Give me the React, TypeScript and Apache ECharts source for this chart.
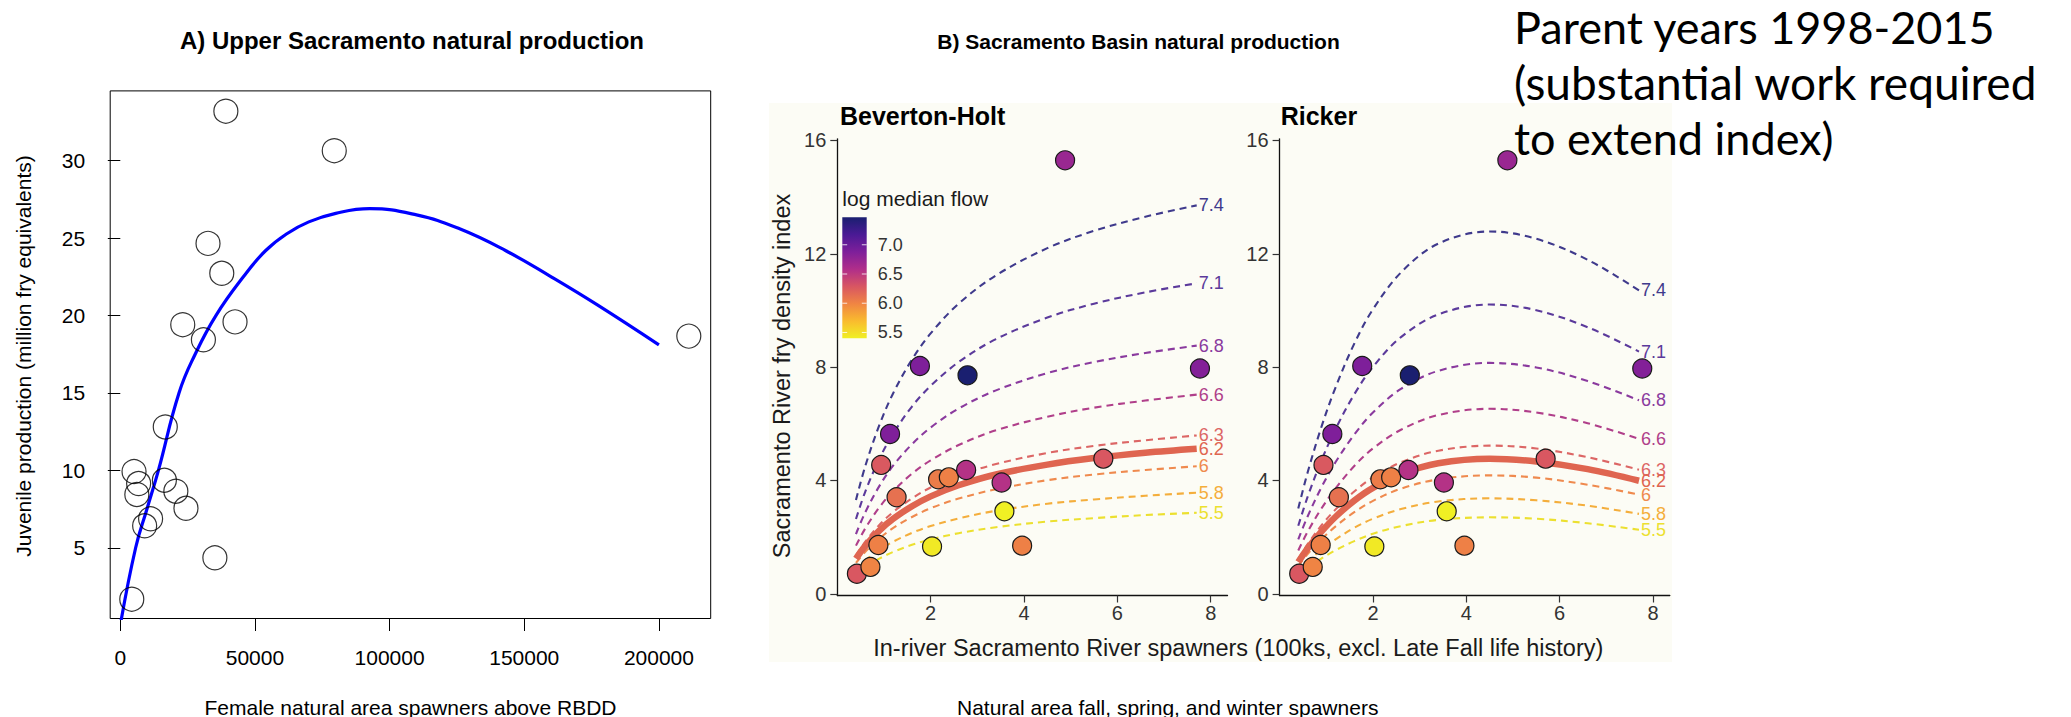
import React, { useEffect, useRef } from "react";
import * as echarts from "echarts";

// ---------- Panel A: Upper Sacramento natural production ----------
const A_SPAWNERS = [4260, 5100, 6140, 6800, 9040, 11250, 16370, 16700, 20630, 23190, 24380, 30860, 32570, 35120, 37680, 39200, 42600, 79450, 211100];
const A_JUVENILES = [1.68, 9.92, 8.44, 9.15, 6.42, 6.87, 9.36, 12.8, 8.65, 19.41, 7.55, 18.43, 24.66, 4.35, 22.73, 33.2, 19.59, 30.65, 18.67];
const A_FIT_X = [0, 5700, 9900, 14150, 21800, 27800, 35500, 45700, 54000, 62000, 70000, 80000, 92600, 110000, 126000, 143000, 160000, 177000, 200000];
const A_FIT_Y = [0, 5, 7.5, 10, 15, 17.5, 20, 22.5, 24.2, 25.3, 26.05, 26.6, 26.9, 26.5, 25.6, 24.2, 22.5, 20.7, 18.1];
const A_X_TICKS = [0, 50000, 100000, 150000, 200000];
const A_Y_TICKS = [5, 10, 15, 20, 25, 30];

// ---------- Panel B: Sacramento Basin natural production ----------
// spawners (100ks), fry density index, log median flow
const B_SPAWNERS = [0.42, 0.71, 0.88, 0.94, 1.13, 1.27, 1.77, 2.03, 2.16, 2.39, 2.76, 2.79, 3.52, 3.58, 3.96, 4.88, 5.7, 7.77];
const B_FRY = [0.71, 0.95, 1.72, 4.55, 5.64, 3.41, 8.04, 1.67, 4.04, 4.11, 4.37, 7.71, 3.93, 2.91, 1.7, 15.3, 4.77, 7.95];
const B_FLOW = [6.28, 6.0, 6.02, 6.27, 6.87, 6.12, 6.88, 5.44, 6.05, 6.02, 6.55, 7.47, 6.55, 5.4, 6.02, 6.72, 6.28, 6.85];

const CURVE_SPAWNERS = [0.4, 0.6, 0.9, 1.2, 1.6, 2.0, 2.6, 3.4, 4.5, 5.5, 6.6, 7.7];
const CURVE_FLOWS = ["7.4", "7.1", "6.8", "6.6", "6.3", "6.2", "6", "5.8", "5.5"];
const CURVE_COLORS = ["#3f3a8c", "#5b3a9b", "#8a3a9e", "#b03f8a", "#dc6665", "#df6550", "#ef8a4e", "#f4ae3c", "#ece030"];
const MEDIAN_FLOW = "6.2";

const BH_CURVES = [
  [3.31, 4.51, 5.95, 7.09, 8.27, 9.19, 10.24, 11.24, 12.2, 12.81, 13.31, 13.71],
  [2.64, 3.61, 4.76, 5.66, 6.61, 7.34, 8.18, 8.99, 9.75, 10.24, 10.64, 10.96],
  [2.11, 2.88, 3.8, 4.53, 5.28, 5.87, 6.54, 7.18, 7.79, 8.18, 8.5, 8.76],
  [1.7, 2.31, 3.05, 3.63, 4.24, 4.71, 5.25, 5.77, 6.25, 6.57, 6.82, 7.03],
  [1.35, 1.84, 2.43, 2.89, 3.37, 3.75, 4.17, 4.58, 4.97, 5.22, 5.42, 5.59],
  [1.24, 1.69, 2.23, 2.65, 3.09, 3.44, 3.83, 4.21, 4.56, 4.79, 4.98, 5.12],
  [1.09, 1.48, 1.95, 2.33, 2.71, 3.02, 3.36, 3.69, 4.01, 4.21, 4.37, 4.5],
  [0.86, 1.17, 1.55, 1.84, 2.15, 2.39, 2.66, 2.93, 3.18, 3.33, 3.46, 3.57],
  [0.69, 0.94, 1.24, 1.48, 1.73, 1.92, 2.14, 2.35, 2.55, 2.67, 2.78, 2.86],
];

const RICKER_CURVES = [
  [3.01, 4.28, 5.91, 7.29, 8.83, 10.04, 11.34, 12.36, 12.79, 12.53, 11.79, 10.71],
  [2.4, 3.42, 4.72, 5.82, 7.04, 8.01, 9.06, 9.86, 10.21, 10.01, 9.41, 8.55],
  [1.92, 2.73, 3.77, 4.65, 5.62, 6.4, 7.23, 7.87, 8.15, 7.99, 7.51, 6.83],
  [1.53, 2.19, 3.02, 3.72, 4.51, 5.13, 5.79, 6.31, 6.53, 6.4, 6.02, 5.47],
  [1.23, 1.75, 2.42, 2.98, 3.61, 4.11, 4.64, 5.05, 5.23, 5.13, 4.82, 4.38],
  [1.12, 1.6, 2.2, 2.72, 3.29, 3.74, 4.23, 4.61, 4.77, 4.67, 4.4, 3.99],
  [0.98, 1.4, 1.93, 2.38, 2.88, 3.28, 3.71, 4.04, 4.18, 4.1, 3.85, 3.5],
  [0.79, 1.13, 1.56, 1.92, 2.33, 2.65, 2.99, 3.26, 3.37, 3.3, 3.11, 2.82],
  [0.63, 0.9, 1.25, 1.54, 1.86, 2.12, 2.39, 2.61, 2.7, 2.65, 2.49, 2.26],
];

const B_X_TICKS = [2, 4, 6, 8];
const B_Y_TICKS = [0, 4, 8, 12, 16];

// colour bar: log median flow, plasma-like scale from high (top) to low (bottom)
const FLOW_MIN = 5.4;
const FLOW_MAX = 7.47;
const FLOW_TICKS = [5.5, 6.0, 6.5, 7.0];
const FLOW_COLORS = ["#1a1f70", "#4a1a95", "#7e1f9a", "#b02e8a", "#d85662", "#f08543", "#f9bb2e", "#f0f024"];

const SANS = '"Liberation Sans", Arial, Helvetica, sans-serif';
const NOTE_FONT = "Lato, 'Open Sans', sans-serif";

function buildOption() {
  const pointsA = A_SPAWNERS.map((x, i) => [x, A_JUVENILES[i]]);
  const fitA = A_FIT_X.map((x, i) => [x, A_FIT_Y[i]]);
  const pointsB = B_SPAWNERS.map((x, i) => [x, B_FRY[i], B_FLOW[i]]);

  const curveSeries = (curves: number[][], axis: number) =>
    curves.map((vals, ci) => {
      const name = CURVE_FLOWS[ci];
      const solid = name === MEDIAN_FLOW;
      return {
        type: "line",
        name,
        xAxisIndex: axis,
        yAxisIndex: axis,
        data: CURVE_SPAWNERS.map((x, i) => [x, vals[i]]),
        smooth: 0.35,
        symbol: "none",
        silent: true,
        z: solid ? 3 : 2,
        lineStyle: solid
          ? { color: CURVE_COLORS[ci], width: 6.5, type: "solid", cap: "butt" }
          : { color: CURVE_COLORS[ci], width: 2.1, type: [7, 5] },
        endLabel: {
          show: true,
          formatter: () => name,
          color: CURVE_COLORS[ci],
          fontSize: 18,
          fontFamily: SANS,
          distance: 2,
        },
      };
    });

  const scatterB = (axis: number) => ({
    type: "scatter",
    id: "flowPoints" + axis,
    xAxisIndex: axis,
    yAxisIndex: axis,
    data: pointsB,
    encode: { x: 0, y: 1 },
    symbolSize: 19,
    z: 5,
    itemStyle: { borderColor: "#1a1a1a", borderWidth: 1.2, opacity: 1 },
  });

  const series: any[] = [
    {
      type: "scatter",
      xAxisIndex: 0,
      yAxisIndex: 0,
      data: pointsA,
      symbolSize: 24,
      z: 4,
      itemStyle: { color: "rgba(0,0,0,0)", borderColor: "#000", borderWidth: 1.2 },
    },
    {
      type: "line",
      xAxisIndex: 0,
      yAxisIndex: 0,
      data: fitA,
      smooth: 0.45,
      symbol: "none",
      z: 3,
      lineStyle: { color: "#0000ff", width: 3.2 },
    },
    ...curveSeries(BH_CURVES, 1),
    scatterB(1),
    ...curveSeries(RICKER_CURVES, 2),
    scatterB(2),
    {
      type: "custom",
      xAxisIndex: 3,
      yAxisIndex: 3,
      silent: true,
      data: [[0, FLOW_MIN, 1, FLOW_MAX]],
      encode: { x: [0, 2], y: [1, 3] },
      renderItem: (params: any, api: any) => {
        const tl = api.coord([0, FLOW_MAX]);
        const br = api.coord([1, FLOW_MIN]);
        const w = br[0] - tl[0];
        const children: any[] = [
          {
            type: "rect",
            shape: { x: tl[0], y: tl[1], width: w, height: br[1] - tl[1] },
            style: {
              fill: new echarts.graphic.LinearGradient(
                0, 0, 0, 1,
                FLOW_COLORS.map((c, i) => ({ offset: i / (FLOW_COLORS.length - 1), color: c }))
              ),
            },
          },
        ];
        FLOW_TICKS.forEach((v) => {
          const y = api.coord([0, v])[1];
          children.push({ type: "line", shape: { x1: tl[0], y1: y, x2: tl[0] + w / 5, y2: y }, style: { stroke: "rgba(255,255,255,0.8)", lineWidth: 1 } });
          children.push({ type: "line", shape: { x1: br[0] - w / 5, y1: y, x2: br[0], y2: y }, style: { stroke: "rgba(255,255,255,0.8)", lineWidth: 1 } });
        });
        return { type: "group", children };
      },
    },
  ];

  const pointSeriesIdx = series
    .map((s, i) => (typeof s.id === "string" && s.id.indexOf("flowPoints") === 0 ? i : -1))
    .filter((i) => i >= 0);

  const bAxisX = (grid: number) => ({
    type: "value",
    gridIndex: grid,
    min: 0,
    max: 8.36,
    axisLine: { show: true, onZero: false, lineStyle: { color: "#111", width: 1.3 } },
    axisTick: { show: true, customValues: B_X_TICKS, length: 7, lineStyle: { color: "#333", width: 1.2 } },
    axisLabel: { customValues: B_X_TICKS, fontSize: 20, color: "#333", margin: 7 },
    splitLine: { show: false },
  });
  const bAxisY = (grid: number) => ({
    type: "value",
    gridIndex: grid,
    min: -0.06,
    max: 16.06,
    axisLine: { show: true, onZero: false, lineStyle: { color: "#111", width: 1.3 } },
    axisTick: { show: true, customValues: B_Y_TICKS, length: 7, lineStyle: { color: "#333", width: 1.2 } },
    axisLabel: { customValues: B_Y_TICKS, fontSize: 20, color: "#333", margin: 11 },
    splitLine: { show: false },
  });

  const text = (x: number, y: number, t: string, size: number, extra: any = {}) => ({
    type: "text",
    x,
    y,
    rotation: extra.rotation || 0,
    style: {
      text: t,
      fontSize: size,
      fontFamily: extra.family || SANS,
      fontWeight: extra.bold ? "bold" : "normal",
      fill: extra.color || "#000",
      textAlign: extra.align || "center",
      textVerticalAlign: "middle",
    },
  });

  return {
    animation: false,
    backgroundColor: "#ffffff",
    textStyle: { fontFamily: SANS },
    grid: [
      { left: 110.2, top: 90.9, width: 600.5, height: 527.6, show: true, borderColor: "#000", borderWidth: 1, backgroundColor: "rgba(0,0,0,0)" },
      { left: 837.3, top: 138.8, width: 390.2, height: 456.7 },
      { left: 1279.6, top: 138.8, width: 390.2, height: 456.7 },
      { left: 842.3, top: 217.3, width: 24.4, height: 121 },
    ],
    xAxis: [
      {
        type: "value",
        gridIndex: 0,
        min: -3750,
        max: 219230,
        axisLine: { show: false },
        splitLine: { show: false },
        axisTick: { show: true, customValues: A_X_TICKS, length: 12.5, lineStyle: { color: "#000", width: 1 } },
        axisLabel: { customValues: A_X_TICKS, fontSize: 21, color: "#000", margin: 28, formatter: (v: number) => String(v) },
      },
      bAxisX(1),
      bAxisX(2),
      { type: "value", gridIndex: 3, min: 0, max: 1, show: false },
    ],
    yAxis: [
      {
        type: "value",
        gridIndex: 0,
        min: 0.43,
        max: 34.51,
        axisLine: { show: false },
        splitLine: { show: false },
        axisTick: { show: true, customValues: A_Y_TICKS, length: 12.5, lineStyle: { color: "#000", width: 1 } },
        axisLabel: { customValues: A_Y_TICKS, fontSize: 21, color: "#000", margin: 25 },
      },
      bAxisY(1),
      bAxisY(2),
      {
        type: "value",
        gridIndex: 3,
        position: "right",
        min: FLOW_MIN,
        max: FLOW_MAX,
        axisLine: { show: false },
        axisTick: { show: false },
        splitLine: { show: false },
        axisLabel: { customValues: FLOW_TICKS, fontSize: 18, color: "#333", margin: 11, formatter: (v: number) => v.toFixed(1) },
      },
    ],
    visualMap: [
      {
        type: "continuous",
        show: false,
        dimension: 2,
        seriesIndex: pointSeriesIdx,
        min: FLOW_MIN,
        max: FLOW_MAX,
        inRange: { color: FLOW_COLORS.slice().reverse() },
      },
    ],
    series,
    graphic: [
      { type: "rect", z: -10, shape: { x: 769, y: 103, width: 903, height: 559 }, style: { fill: "#fcfcf5" } },
      text(412, 40.5, "A) Upper Sacramento natural production", 24, { bold: true }),
      text(1138.5, 41, "B) Sacramento Basin natural production", 21, { bold: true }),
      text(410.5, 707, "Female natural area spawners above RBDD", 21),
      text(23, 356, "Juvenile production (million fry equivalents)", 21, { rotation: Math.PI / 2 }),
      text(781.7, 376, "Sacramento River fry density index", 23.5, { rotation: Math.PI / 2, color: "#1a1a1a" }),
      text(1238.3, 648, "In-river Sacramento River spawners (100ks, excl. Late Fall life history)", 23.5, { color: "#1a1a1a" }),
      text(1167.7, 707, "Natural area fall, spring, and winter spawners", 21),
      text(840, 115.5, "Beverton-Holt", 25, { bold: true, align: "left" }),
      text(1280.7, 115.5, "Ricker", 25, { bold: true, align: "left" }),
      text(842.3, 198.3, "log median flow", 21, { align: "left", color: "#1a1a1a" }),
      text(1514, 26.5, "Parent years 1998-2015", 45, { align: "left", family: NOTE_FONT }),
      text(1514, 82, "(substantial work required", 46, { align: "left", family: NOTE_FONT }),
      text(1514, 137.5, "to extend index)", 45, { align: "left", family: NOTE_FONT }),
    ],
  };
}

export default function App() {
  const ref = useRef<HTMLDivElement>(null);
  useEffect(() => {
    if (!ref.current) return;
    const chart = echarts.init(ref.current, null, { renderer: "svg" });
    chart.setOption(buildOption() as any);
    return () => chart.dispose();
  }, []);
  return (
    <div
      ref={ref}
      style={{ position: "absolute", left: 0, top: 0, width: 2071, height: 717, background: "#fff" }}
    />
  );
}
